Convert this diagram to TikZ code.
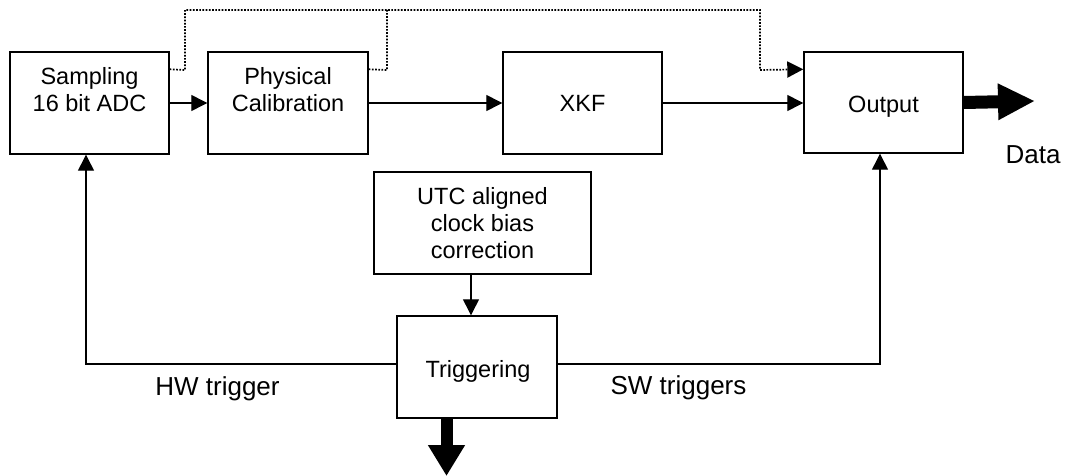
\documentclass[tikz,border=0pt]{standalone}
\usepackage{fontspec}
\setmainfont{Liberation Sans}
\usetikzlibrary{arrows.meta,calc}
\begin{document}
\begin{tikzpicture}[x=1pt,y=-1pt,
  blk/.style={draw,line width=1.4pt,inner sep=0pt,rectangle},
  btxt/.style={font=\fontsize{23.5}{27}\selectfont,align=center,inner sep=0pt},
  ltxt/.style={font=\fontsize{26}{30}\selectfont,inner sep=0pt,anchor=base},
  arr/.style={line width=1.3pt,-{Triangle[length=16pt,width=16pt]}},
  dots/.style={line width=1.7pt,dash pattern=on 1.7pt off 1.5pt},
  fat/.style={line width=13pt}
]
\useasboundingbox (0,0) rectangle (1065,476);
% boxes
\node[blk,minimum width=159pt,minimum height=102pt] (samp) at (89.5,103) {};
\node[blk,minimum width=160pt,minimum height=102pt] (phys) at (288,103) {};
\node[blk,minimum width=159pt,minimum height=102pt] (xkf) at (582.5,103) {};
\node[blk,minimum width=159pt,minimum height=101pt] (out) at (883.5,102.5) {};
\node[blk,minimum width=217pt,minimum height=102pt] (utc) at (482.5,223) {};
\node[blk,minimum width=160pt,minimum height=102pt] (trig) at (477,367) {};
% box texts
\node[btxt] (sampt) at (89.5,90) {Sampling\\16 bit ADC};
\node[btxt] (physt) at (288,90) {Physical\\Calibration};
\node[btxt,anchor=base] (xkft) at (582.5,112) {XKF};
\node[btxt,anchor=base] (outt) at (883.5,113) {Output};
\node[btxt] (utct) at (482.5,223.5) {UTC aligned\\clock bias\\correction};
\node[btxt,anchor=base] (trigt) at (478,377) {Triggering};
% labels
\node[ltxt] (hw) at (217.5,395) {HW trigger};
\node[ltxt] (sw) at (678.5,394) {SW triggers};
\node[ltxt] (data) at (1033,163) {Data};
% main flow
\draw[arr] (samp.east) -- (phys.west);
\draw[arr] (phys.east) -- (xkf.west);
\draw[arr] (xkf.east) -- (xkf.east -| out.west);
% dotted bypasses
\coordinate (d1) at ($(samp.north east)+(0,18)$);
\coordinate (d2) at ($(phys.north east)+(0,18)$);
\draw[dots,-{Triangle[length=16pt,width=16pt]}] (d1) -- (185,70) -- (185,10) -- (760,10) -- (760,70) -- (d1 -| out.west);
\draw[dots] (d2) -- (387,70) -- (387,10);
% clock
\draw[arr] (utc.south -| 471,0) -- (trig.north -| 471,0);
% triggers
\draw[arr] (trig.west |- 0,364) -- (86,364) -- (samp.south -| 86,0);
\draw[arr] (trig.east |- 0,364) -- (880,364) -- (out.south -| 880,0);
% fat outputs
\draw[fat,-{Triangle[length=37pt,width=34pt]}] (out.east) -- (1035,101);
\draw[line width=12pt,-{Triangle[length=31pt,width=35pt]}] (trig.south -| 446.5,0) -- (446.5,476);
\end{tikzpicture}
\end{document}
